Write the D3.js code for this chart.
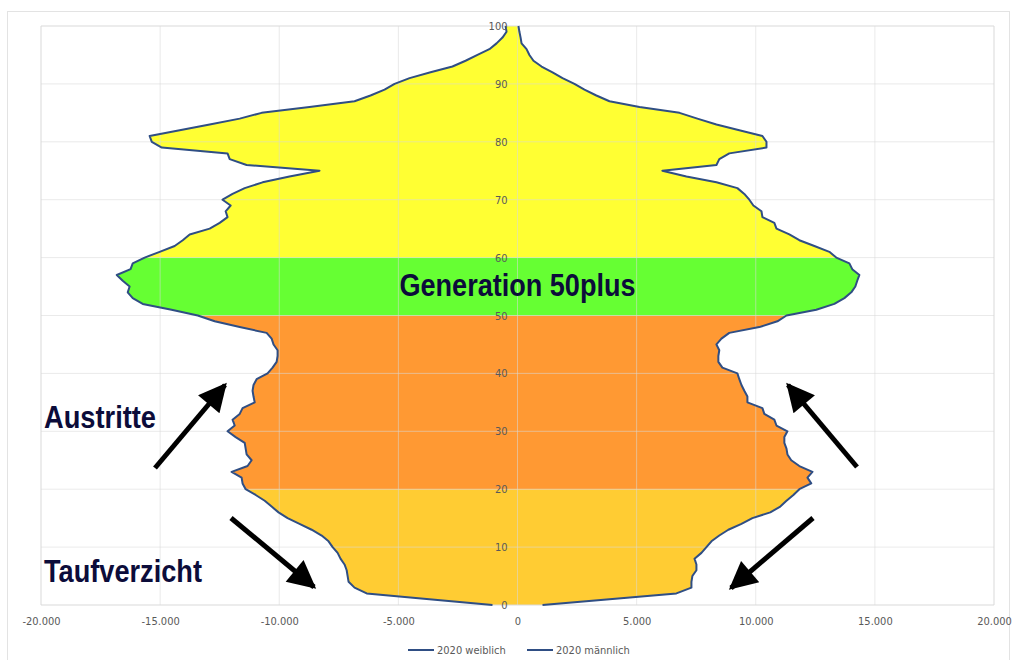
<!DOCTYPE html>
<html>
<head>
<meta charset="utf-8">
<script src="https://cdn.jsdelivr.net/npm/d3@7"></script>
<style>
  body { margin: 0; background: #fff; }
  svg { display: block; }
</style>
</head>
<body>
<svg id="chart" width="1016" height="660"></svg>
<script>

// age 0..100
var ages = d3.range(0, 101);

// 2020 weiblich (left side, negative)
var weiblich = [
  -1050, -3700, -6330, -6840, -7090, -7130, -7170, -7260, -7430, -7550,
  -7760, -7930, -8220, -8640, -9150, -9650, -10030, -10320, -10610, -10990,
  -11410, -11540, -11580, -12000, -11330, -11160, -11370, -11410, -11450, -11830,
  -12170, -11870, -11960, -11660, -11540, -11030, -11080, -11120, -11080, -10950,
  -10490, -10280, -10110, -10070, -10070, -10240, -10320, -10530, -11660, -12710,
  -13420, -14520, -15730, -16150, -16360, -16280, -16570, -16820, -16240, -16150,
  -15650, -15020, -14390, -14050, -13760, -12920, -12500, -12170, -12250, -12040,
  -12380, -11960, -11450, -10700, -9570, -8310, -11370, -12080, -12170, -14930,
  -15350, -15440, -14180, -12920, -11660, -10740, -8730, -6840, -6170, -5580,
  -5160, -4530, -3650, -2730, -2180, -1680, -1180, -880, -630, -460,
  -500
];

// 2020 männlich (right side)
var maennlich = [
  1050, 3860, 6670, 7300, 7300, 7340, 7510, 7510, 7430, 7720,
  7930, 8140, 8470, 8850, 9400, 9860, 10610, 11030, 11290, 11580,
  11830, 12330, 12170, 12380, 11830, 11490, 11330, 11290, 11200, 11200,
  11330, 10870, 10780, 10360, 10280, 9650, 9650, 9520, 9400, 9310,
  9230, 8600, 8430, 8430, 8470, 8350, 8560, 8890, 10150, 10910,
  11290, 12540, 13300, 13720, 14010, 14180, 14260, 14350, 14050, 13930,
  13380, 13090, 12460, 11830, 11410, 10870, 10780, 10280, 10240, 9900,
  9730, 9520, 9230, 8350, 7090, 6080, 8350, 8470, 8890, 10450,
  10450, 10280, 9310, 8350, 7550, 6800, 5120, 3860, 3310, 2810,
  2390, 1890, 1470, 1010, 670, 500, 380, 170, 130, 80,
  40
];

// coloured age bands
var bandNames = ["bis 20", "20-50", "Generation 50plus", "60+"];
var bandFrom = [0, 20, 50, 60];
var bandTo = [20, 50, 60, 100];
var bandColors = ["#FFCC33", "#FF9933", "#66FF33", "#FFFF33"];

var xTicks = [-20000, -15000, -10000, -5000, 0, 5000, 10000, 15000, 20000];
var yTicks = [0, 10, 20, 30, 40, 50, 60, 70, 80, 90, 100];

var legendLabels = ["2020 weiblich", "2020 männlich"];

var lineColor = "#2F4E84";
var labelFont = "'Liberation Sans Narrow', 'DejaVu Sans Condensed', Arial, sans-serif";

var svg = d3.select("#chart");

var de = d3.formatLocale({ decimal: ",", thousands: ".", grouping: [3], currency: ["", " €"], minus: "-" });
var fmt = de.format(",d");

var x = d3.scaleLinear().domain([-20000, 20000]).range([41, 994]);
var y = d3.scaleLinear().domain([0, 100]).range([605, 26]);

// outer chart border
svg.append("rect")
  .attr("x", 7.5)
  .attr("y", 11.5)
  .attr("width", 1002)
  .attr("height", 660)
  .style("fill", "none")
  .style("stroke", "#E3E3E3");

// fill between the two lines, cut into bands
var outline = ages.map((a, i) => [x(weiblich[i]), y(a)])
  .concat(ages.slice().reverse().map(a => [x(maennlich[a]), y(a)]));

var defs = svg.append("defs");

bandFrom.forEach((from, i) => {
  defs.append("clipPath")
    .attr("id", "band" + i)
    .append("rect")
    .attr("x", 0)
    .attr("width", 1016)
    .attr("y", y(bandTo[i]))
    .attr("height", y(from) - y(bandTo[i]));

  svg.append("path")
    .attr("d", d3.line()(outline) + "Z")
    .attr("clip-path", "url(#band" + i + ")")
    .style("fill", bandColors[i])
    .style("stroke", "none");
});

// grid
var grid = svg.append("g").attr("class", "grid");

grid.selectAll("line.v")
  .data(xTicks)
  .enter()
  .append("line")
  .attr("x1", d => x(d))
  .attr("x2", d => x(d))
  .attr("y1", y(0))
  .attr("y2", y(100))
  .style("stroke", "#D9D9D9")
  .style("stroke-opacity", d => (d == -20000 || d == 20000) ? 1 : 0.55);

grid.selectAll("line.h")
  .data(yTicks)
  .enter()
  .append("line")
  .attr("x1", x(-20000))
  .attr("x2", x(20000))
  .attr("y1", d => y(d))
  .attr("y2", d => y(d))
  .style("stroke", "#D9D9D9")
  .style("stroke-opacity", d => (d == 0 || d == 100) ? 1 : 0.55);

// the two population lines
[weiblich, maennlich].forEach(series => {
  svg.append("path")
    .datum(ages)
    .attr("d", d3.line().x(a => x(series[a])).y(a => y(a)))
    .style("fill", "none")
    .style("stroke", lineColor)
    .style("stroke-width", 2)
    .style("stroke-linejoin", "round");
});

// axes (labels only)
var xAxis = svg.append("g")
  .attr("transform", `translate(0, ${y(0)})`)
  .call(d3.axisBottom(x).tickValues(xTicks).tickFormat(fmt).tickSize(0).tickPadding(12));

var yAxis = svg.append("g")
  .attr("transform", `translate(${x(0) - 2}, 0)`)
  .call(d3.axisLeft(y).tickValues(yTicks).tickSize(0).tickPadding(8));

[xAxis, yAxis].forEach(ax => {
  ax.select(".domain").remove();
  ax.selectAll("text")
    .style("fill", "#595959")
    .style("font-size", "11px")
    .style("font-family", labelFont);
});

// annotations
var notes = [
  { text: "Generation 50plus", x: x(0), y: 296, anchor: "middle", len: 236 },
  { text: "Austritte", x: 44, y: 428, anchor: "start", len: 112 },
  { text: "Taufverzicht", x: 44, y: 582, anchor: "start", len: 158 }
];

svg.selectAll("text.note")
  .data(notes)
  .enter()
  .append("text")
  .attr("class", "note")
  .text(d => d.text)
  .attr("x", d => d.x)
  .attr("y", d => d.y)
  .attr("textLength", d => d.len)
  .attr("lengthAdjust", "spacingAndGlyphs")
  .style("text-anchor", d => d.anchor)
  .style("fill", "#0C0C3A")
  .style("font-size", "31px")
  .style("font-weight", "bold")
  .style("font-family", "'Liberation Sans Narrow', 'Liberation Sans', Arial, sans-serif");

// arrows
defs.append("marker")
  .attr("id", "head")
  .attr("viewBox", "0 0 10 10")
  .attr("refX", 9)
  .attr("refY", 5)
  .attr("markerUnits", "userSpaceOnUse")
  .attr("markerWidth", 32)
  .attr("markerHeight", 28)
  .attr("orient", "auto")
  .append("path")
  .attr("d", "M0,0 L10,5 L0,10 Z")
  .style("fill", "#000");

var arrows = [
  [155, 468, 225, 385],
  [857, 467, 788, 385],
  [231, 518, 314, 587],
  [813, 518, 731, 588]
];

svg.selectAll("line.arrow")
  .data(arrows)
  .enter()
  .append("line")
  .attr("class", "arrow")
  .attr("x1", d => d[0])
  .attr("y1", d => d[1])
  .attr("x2", d => d[2])
  .attr("y2", d => d[3])
  .attr("marker-end", "url(#head)")
  .style("stroke", "#000")
  .style("stroke-width", 5);

// legend
var legend = svg.append("g").attr("transform", "translate(408, 650)");
var legendX = [0, 119];

legendLabels.forEach((label, i) => {
  var item = legend.append("g").attr("transform", `translate(${legendX[i]}, 0)`);
  item.append("line")
    .attr("x1", 0)
    .attr("x2", 26)
    .style("stroke", lineColor)
    .style("stroke-width", 2);
  item.append("text")
    .text(label)
    .attr("x", 29)
    .attr("y", 4)
    .style("fill", "#595959")
    .style("font-size", "11px")
    .style("font-family", labelFont);
});

</script>
</body>
</html>
